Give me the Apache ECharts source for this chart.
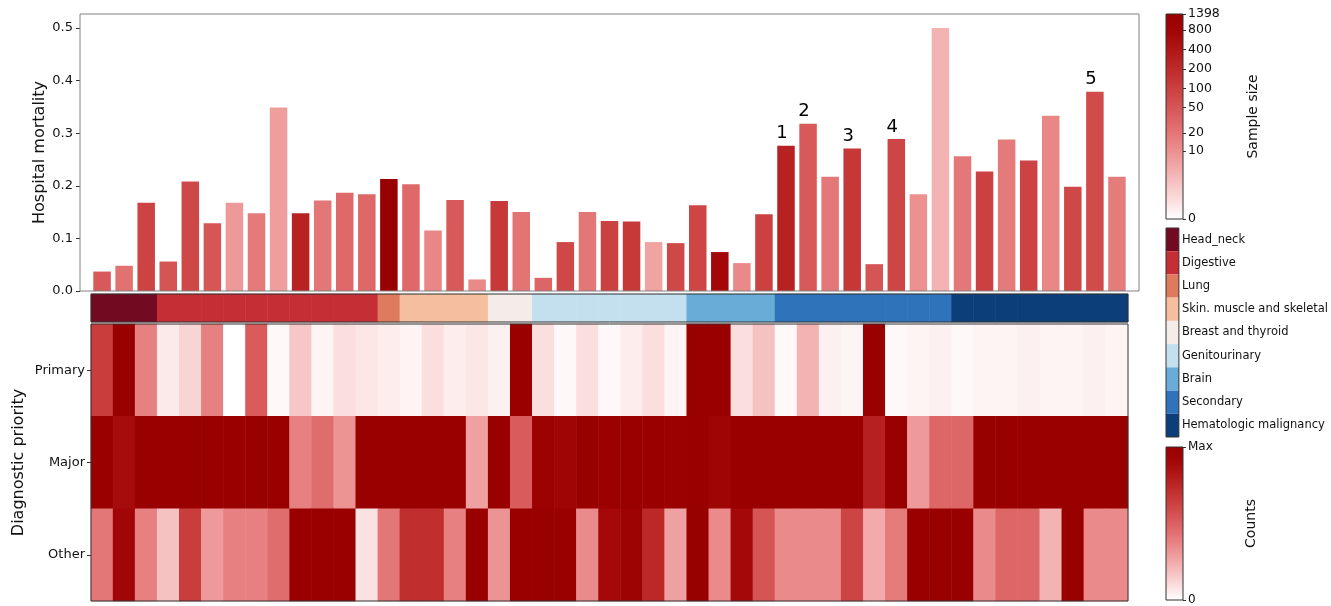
<!DOCTYPE html>
<html>
<head>
<meta charset="utf-8">
<script src="https://cdn.jsdelivr.net/npm/echarts@6/dist/echarts.min.js"></script>
<style>
  html, body { margin: 0; padding: 0; background: #fff; }
  #chart { width: 1331px; height: 606px; }
</style>
</head>
<body>
<div id="chart"></div>
<script>
  // hospital mortality of each diagnosis (left to right)
  const mortality = [0.037, 0.048, 0.168, 0.056, 0.208, 0.129, 0.168, 0.148, 0.349, 0.148,
    0.172, 0.187, 0.184, 0.213, 0.203, 0.115, 0.173, 0.022, 0.171, 0.150,
    0.025, 0.093, 0.150, 0.133, 0.132, 0.093, 0.091, 0.163, 0.074, 0.053,
    0.146, 0.276, 0.318, 0.217, 0.271, 0.051, 0.289, 0.184, 0.500, 0.256,
    0.227, 0.288, 0.248, 0.333, 0.198, 0.379, 0.217]
  // sample size of each diagnosis (drives bar colour)
  const sampleSize = [45, 22, 90, 53, 77, 50, 8, 18, 7, 265,
    20, 28, 30, 1398, 28, 13, 45, 12, 125, 21,
    32, 77, 20, 100, 125, 6, 77, 85, 700, 12,
    100, 280, 45, 19, 130, 53, 85, 10, 4, 19,
    100, 18, 90, 13, 77, 70, 17]
  const labelledBars = [31, 32, 34, 36, 45]
  const labelTexts = ['1', '2', '3', '4', '5']

  const groupNames = ['Head_neck', 'Digestive', 'Lung', 'Skin. muscle and skeletal', 'Breast and thyroid',
    'Genitourinary', 'Brain', 'Secondary', 'Hematologic malignancy']
  const groupSizes = [3, 10, 1, 4, 2, 7, 4, 8, 8]

  const priorities = ['Primary', 'Major', 'Other']
  const primaryCounts = [0.65, 1.0, 0.38, 0.06, 0.12, 0.38, 0.0, 0.52, 0.02, 0.16,
    0.03, 0.09, 0.07, 0.05, 0.03, 0.09, 0.05, 0.07, 0.04, 1.0,
    0.09, 0.02, 0.09, 0.02, 0.05, 0.09, 0.03, 1.0, 1.0, 0.09,
    0.18, 0.02, 0.22, 0.04, 0.03, 1.0, 0.02, 0.03, 0.04, 0.02,
    0.03, 0.03, 0.04, 0.03, 0.03, 0.04, 0.03]
  const majorCounts = [1.0, 0.88, 1.0, 1.0, 1.0, 1.0, 1.0, 1.0, 1.0, 0.38,
    0.45, 0.32, 1.0, 1.0, 1.0, 1.0, 1.0, 0.28, 1.0, 0.52,
    0.97, 0.93, 1.0, 0.98, 1.0, 1.0, 0.98, 1.0, 0.93, 1.0,
    1.0, 1.0, 1.0, 1.0, 1.0, 0.78, 1.0, 0.3, 0.48, 0.48,
    1.0, 1.0, 1.0, 1.0, 1.0, 1.0, 1.0]
  const otherCounts = [0.42, 0.92, 0.38, 0.18, 0.65, 0.3, 0.38, 0.38, 0.45, 1.0,
    1.0, 1.0, 0.08, 0.42, 0.72, 0.72, 0.38, 1.0, 0.32, 1.0,
    1.0, 1.0, 0.35, 0.9, 0.95, 0.75, 0.28, 1.0, 0.35, 0.9,
    0.55, 0.35, 0.35, 0.35, 0.62, 0.25, 0.4, 1.0, 1.0, 1.0,
    0.35, 0.48, 0.48, 0.22, 1.0, 0.35, 0.35]

  const mortalityTicks = [0, 0.1, 0.2, 0.3, 0.4, 0.5]
  const sizeTicks = [0, 10, 20, 50, 100, 200, 400, 800, 1398]

  // colours
  const cmap = ['#ffffff', '#fbdede', '#f6c0c0', '#f0a2a2', '#e98686', '#e06c6c',
    '#d65555', '#cb4040', '#bf2c2c', '#b11818', '#a20606', '#990000']
  const groupColors = ['#720a22', '#c62e36', '#de7a5e', '#f5bf9f', '#f3ece8',
    '#c4dfee', '#69acd7', '#2f73bb', '#0c3e7a']

  const font = 'DejaVu Sans'
  const logSize = n => Math.log10(n + 1)
  const sizeMax = logSize(1398)
  const gradient = () => ({
    type: 'linear', x: 0, y: 1, x2: 0, y2: 0,
    colorStops: cmap.map((c, i) => ({ offset: i / (cmap.length - 1), color: c }))
  })

  let groupOf = []
  groupSizes.forEach((n, g) => { for (let k = 0; k < n; k++) groupOf.push(g) })

  let barData = mortality.map((m, i) => {
    let item = { value: [i, m, logSize(sampleSize[i])] }
    let j = labelledBars.indexOf(i)
    if (j >= 0) {
      item.label = { show: true, position: 'top', distance: 3, offset: [-4, 0],
        formatter: labelTexts[j], fontSize: 18, fontFamily: font, color: '#000' }
    }
    return item
  })
  let cols = mortality.map((m, i) => String(i))
  let heatData = []
  ;[primaryCounts, majorCounts, otherCounts].forEach((row, r) => {
    row.forEach((v, i) => heatData.push([i, r, v]))
  })
  let stripData = groupOf.map((g, i) => [i, 0, g])

  let myChart = echarts.init(document.getElementById('chart'))
  let option = {
    animation: false,
    textStyle: { fontFamily: font },
    grid: [
      { left: 80, top: 14, width: 1059, height: 277, show: true, borderColor: '#808080', borderWidth: 1, z: 10 },
      { left: 91, top: 294, width: 1037, height: 28, show: true, borderColor: '#333', borderWidth: 1, z: 10 },
      { left: 91, top: 324, width: 1037, height: 277, show: true, borderColor: '#333', borderWidth: 1, z: 10 },
      { left: 1166, top: 14, width: 17, height: 205, show: true, borderColor: '#333', borderWidth: 1, z: 10 },
      { left: 1166, top: 228, width: 17, height: 209, show: true, borderColor: '#333', borderWidth: 1, z: 10 },
      { left: 1166, top: 447, width: 17, height: 154, show: true, borderColor: '#333', borderWidth: 1, z: 10 }
    ],
    xAxis: [
      { gridIndex: 0, type: 'value', min: -1, max: 47, show: false },
      { gridIndex: 1, type: 'category', data: cols, show: false },
      { gridIndex: 2, type: 'category', data: cols, show: false },
      { gridIndex: 3, type: 'category', data: ['s'], show: false },
      { gridIndex: 4, type: 'value', min: 0, max: 1, show: false },
      { gridIndex: 5, type: 'category', data: ['c'], show: false }
    ],
    yAxis: [
      {
        gridIndex: 0, type: 'value', min: 0, max: 0.5266,
        name: 'Hospital mortality', nameLocation: 'middle', nameGap: 32, nameMoveOverlap: false,
        nameTextStyle: { fontSize: 16, color: '#111', fontFamily: font },
        axisLine: { show: false, onZero: false }, splitLine: { show: false },
        axisTick: { show: true, length: 4, lineStyle: { color: '#333' }, customValues: mortalityTicks },
        axisLabel: { fontSize: 13, color: '#111', margin: 7, customValues: mortalityTicks,
          formatter: v => v.toFixed(1) }
      },
      { gridIndex: 1, type: 'category', data: ['g'], show: false },
      {
        gridIndex: 2, type: 'category', data: priorities, inverse: true,
        name: 'Diagnostic priority', nameLocation: 'middle', nameGap: 64, nameMoveOverlap: false,
        nameTextStyle: { fontSize: 16, color: '#111', fontFamily: font },
        axisLine: { show: false, onZero: false },
        axisTick: { show: true, alignWithLabel: true, length: 4, lineStyle: { color: '#333' } },
        axisLabel: { fontSize: 13, color: '#111', margin: 6 }
      },
      {
        gridIndex: 3, type: 'value', min: 0, max: sizeMax, position: 'right',
        name: 'Sample size', nameLocation: 'middle', nameGap: 63, nameMoveOverlap: false,
        nameTextStyle: { fontSize: 14, color: '#111', fontFamily: font },
        axisLine: { show: false, onZero: false }, splitLine: { show: false },
        axisTick: { show: true, length: 3, lineStyle: { color: '#333' }, customValues: sizeTicks.map(logSize) },
        axisLabel: { fontSize: 12.5, color: '#111', margin: 5, customValues: sizeTicks.map(logSize),
          formatter: v => String(Math.round(Math.pow(10, v) - 1)) }
      },
      {
        gridIndex: 4, type: 'category', data: groupNames, inverse: true, position: 'right',
        axisLine: { show: false, onZero: false }, axisTick: { show: false },
        axisLabel: { fontSize: 11.5, color: '#111', margin: 3 }
      },
      {
        gridIndex: 5, type: 'value', min: 0, max: 1, position: 'right',
        name: 'Counts', nameLocation: 'middle', nameGap: 61, nameMoveOverlap: false,
        nameTextStyle: { fontSize: 14, color: '#111', fontFamily: font },
        axisLine: { show: false, onZero: false }, splitLine: { show: false },
        axisTick: { show: true, length: 3, lineStyle: { color: '#333' }, customValues: [0, 1] },
        axisLabel: { fontSize: 12, color: '#111', margin: 5, customValues: [0, 1],
          formatter: v => (v === 1 ? 'Max' : '0') }
      }
    ],
    visualMap: [
      { show: false, type: 'continuous', seriesIndex: 0, dimension: 2, min: 0, max: sizeMax,
        inRange: { color: cmap } },
      { show: false, type: 'continuous', seriesIndex: 2, dimension: 2, min: 0, max: 1,
        inRange: { color: cmap } },
      { show: false, type: 'piecewise', seriesIndex: 1, dimension: 2,
        pieces: groupColors.map((c, g) => ({ value: g, color: c })) }
    ],
    series: [
      {
        type: 'bar', xAxisIndex: 0, yAxisIndex: 0, barWidth: 17.5,
        data: barData, encode: { x: 0, y: 1 }
      },
      {
        type: 'heatmap', xAxisIndex: 1, yAxisIndex: 1, data: stripData
      },
      {
        type: 'heatmap', xAxisIndex: 2, yAxisIndex: 2, data: heatData
      },
      {
        type: 'bar', xAxisIndex: 3, yAxisIndex: 3, barWidth: '100%',
        data: [{ value: sizeMax, itemStyle: { color: gradient() } }]
      },
      {
        type: 'bar', xAxisIndex: 4, yAxisIndex: 4, barWidth: '100%',
        data: groupNames.map((n, i) => ({ value: 1, itemStyle: { color: groupColors[i] } }))
      },
      {
        type: 'bar', xAxisIndex: 5, yAxisIndex: 5, barWidth: '100%',
        data: [{ value: 1, itemStyle: { color: gradient() } }]
      }
    ]
  }
  myChart.setOption(option)
</script>
</body>
</html>
